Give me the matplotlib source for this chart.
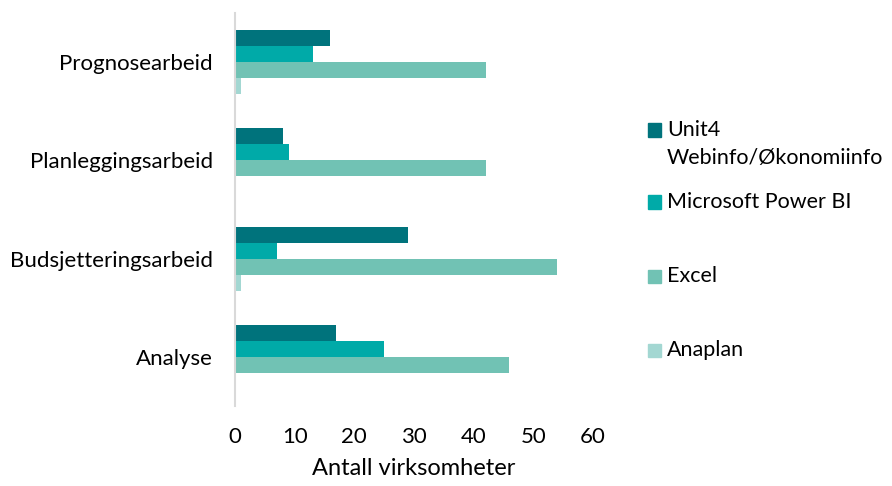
import matplotlib
matplotlib.use("Agg")
import matplotlib.pyplot as plt
from matplotlib.patches import Rectangle
import numpy as np

categories = ["Prognosearbeid", "Planleggingsarbeid", "Budsjetteringsarbeid", "Analyse"]
series_names = ["Unit4\nWebinfo/Økonomiinfo", "Microsoft Power BI", "Excel", "Anaplan"]
unit4 = [16, 8, 29, 17]
powerbi = [13, 9, 7, 25]
excel = [42, 42, 54, 46]
anaplan = [1, 0, 1, 0]
colors = ["#00737C", "#00AAA8", "#71C2B4", "#A3D7D2"]
xticks = [0, 10, 20, 30, 40, 50, 60]

plt.rcParams['font.family'] = ['Lato', 'DejaVu Sans']

fig = plt.figure(figsize=(8.92, 4.86), dpi=100)
ax = fig.add_axes([235/892, 1-406/486, (593-235)/892, (406-13)/486])

y = np.arange(len(categories))
h = 0.163
all_series = [unit4, powerbi, excel, anaplan]
for i, (vals, c) in enumerate(zip(all_series, colors)):
    ax.barh(y + (i - 1.5) * h, vals, height=h, color=c, linewidth=0)

ax.set_ylim(3.5, -0.5)
ax.set_xlim(0, 60)
ax.set_yticks(y)
ax.set_yticklabels(categories, fontsize=16)
ax.set_xticks(xticks)
ax.set_xticklabels([str(t) for t in xticks], fontsize=16)
ax.tick_params(axis='both', length=0)
ax.tick_params(axis='y', pad=16)
ax.tick_params(axis='x', pad=15)
for s in ["top", "right", "bottom"]:
    ax.spines[s].set_visible(False)
ax.spines["left"].set_color("#D9D9D9")
ax.spines["left"].set_linewidth(1.5)
ax.set_xlabel("Antall virksomheter", fontsize=17, labelpad=8)

# legend (manual)
W, H = 892, 486
leg_y = [130, 202, 276, 350]
for name, c, yc in zip(series_names, colors, leg_y):
    fig.patches.append(Rectangle((648/W, 1-(yc+6.5)/H), 13/W, 13/H,
                                 transform=fig.transFigure, color=c))
    lines = name.split("\n")
    for k, ln in enumerate(lines):
        fig.text(667/W, 1-(yc + 28*k)/H, ln, fontsize=15.5, va='center', ha='left')

fig.savefig("out.png", dpi=100)
